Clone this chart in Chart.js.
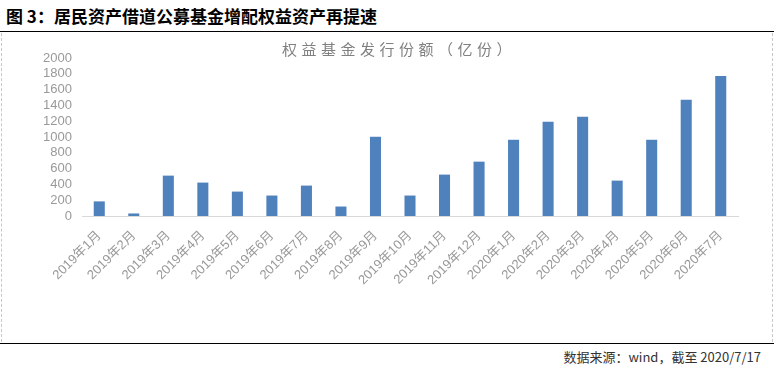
<!DOCTYPE html>
<html>
<head>
<meta charset="utf-8">
<script src="https://cdn.jsdelivr.net/npm/chart.js@4/dist/chart.umd.min.js"></script>
<style>
  html, body { margin: 0; padding: 0; background: #fff; }
  body { width: 774px; height: 371px; position: relative; overflow: hidden; font-family: "Noto Sans CJK SC", sans-serif; }
  #title { position: absolute; left: 6px; top: 4px; font-size: 17px; font-weight: bold; color: #000; line-height: 24px; }
  #topline { position: absolute; left: 0; top: 31px; width: 774px; height: 0; border-top: 1.5px solid #000; }
  #frame { position: absolute; left: 1px; top: 33px; width: 770px; height: 309px; border-left: 1px dashed #c8c8c8; border-right: 1px dashed #c8c8c8; }
  #bottomline { position: absolute; left: 0; top: 343px; width: 774px; height: 0; border-top: 1.5px solid #000; }
  #source { position: absolute; right: 13px; top: 347px; font-size: 13px; color: #333; line-height: 20px; }
  #charttitle { position: absolute; left: 282px; top: 39px; font-size: 15px; letter-spacing: 4.5px; color: #808080; line-height: 20px; white-space: nowrap; }
  #wrap { position: absolute; left: 0; top: 33px; width: 774px; height: 309px; }
</style>
</head>
<body>
<div id="title">图 3：居民资产借道公募基金增配权益资产再提速</div>
<div id="topline"></div>
<div id="frame"></div>
<div id="wrap"><canvas id="chart"></canvas></div>
<div id="charttitle">权益基金发行份额（亿份）</div>
<div id="bottomline"></div>
<div id="source">数据来源：wind，截至 2020/7/17</div>

<script>
const months = [
  '2019年1月', '2019年2月', '2019年3月', '2019年4月', '2019年5月', '2019年6月',
  '2019年7月', '2019年8月', '2019年9月', '2019年10月', '2019年11月', '2019年12月',
  '2020年1月', '2020年2月', '2020年3月', '2020年4月', '2020年5月', '2020年6月', '2020年7月'
];
const issuance = [185, 32, 511, 423, 309, 259, 385, 120, 1003, 259, 524, 688, 965, 1193, 1256, 448, 965, 1470, 1773];

const tickFont = { family: '"Liberation Sans", "Noto Sans CJK SC", sans-serif', size: 13 };

new Chart(document.getElementById('chart'), {
  type: 'bar',
  data: {
    labels: months,
    datasets: [{
      label: '权益基金发行份额（亿份）',
      data: issuance,
      backgroundColor: '#4f81bd',
      barPercentage: 0.64,
      categoryPercentage: 0.5
    }]
  },
  options: {
    responsive: true,
    maintainAspectRatio: false,
    animation: false,
    layout: { padding: { left: 0, right: 36, top: 25, bottom: 0 } },
    plugins: {
      legend: { display: false },
      tooltip: { enabled: false }
    },
    scales: {
      x: {
        grid: { display: false, drawTicks: false },
        border: { display: true, color: '#d9d9d9', width: 1 },
        ticks: {
          color: '#999999',
          font: tickFont,
          maxRotation: 45,
          minRotation: 45,
          autoSkip: false,
          padding: 12
        },
        afterFit: scale => { scale.height = 126; }
      },
      y: {
        min: 0,
        max: 2000,
        grid: { display: false, drawTicks: false },
        border: { display: false },
        ticks: {
          stepSize: 200,
          autoSkip: false,
          color: '#999999',
          font: tickFont,
          padding: 10,
          callback: v => String(v)
        },
        afterFit: scale => { scale.width = 82; }
      }
    }
  }
});
</script>
</body>
</html>
